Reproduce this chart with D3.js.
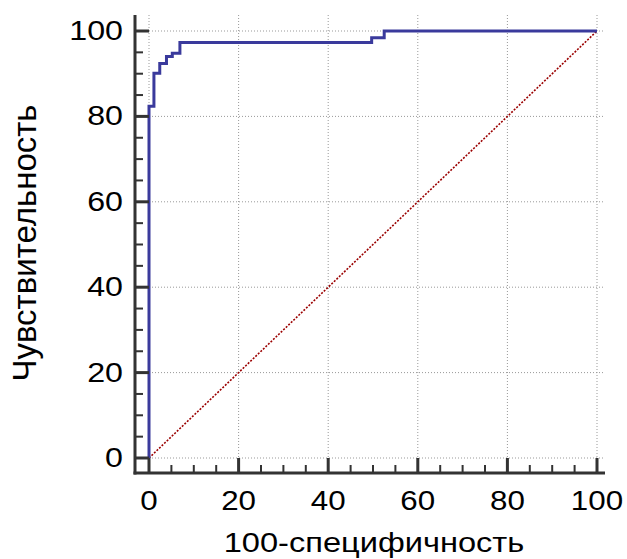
<!DOCTYPE html>
<html><head><meta charset="utf-8">
<script src="https://cdn.jsdelivr.net/npm/d3@7"></script>
<style>body{margin:0;background:#fff}svg{display:block}</style>
</head><body>
<script>
// ROC curve corners (100-specificity, sensitivity)
const fpr = [0, 0, 1.1, 2.4, 3.9, 5.2, 6.9, 49.7, 52.5, 100];
const tpr = [0, 82.4, 90.1, 92.4, 94.0, 94.8, 97.3, 98.4, 100, 100];
const majorTicks = [0, 20, 40, 60, 80, 100];
const minorTicks = d3.range(0, 101, 5);
const xTitle = "100-специфичность";
const yTitle = "Чувствительность";

(function () {
const W = 627, H = 559;
const svg = d3.select("body").append("svg").attr("width", W).attr("height", H);
const x = d3.scaleLinear().domain([0, 100]).range([149, 597]);
const y = d3.scaleLinear().domain([0, 100]).range([458, 31]);
const pLeft = x(0) - 14, pBottom = y(0) + 15, pRight = x(100) + 8, pTop = y(100) - 16;
const font = "Liberation Sans, Arial, sans-serif";
const axisColor = "#333333";

function seg(x1, y1, x2, y2, stroke, w, dash) {
  const l = svg.append("line").attr("x1", x1).attr("y1", y1).attr("x2", x2).attr("y2", y2)
    .attr("stroke", stroke).attr("stroke-width", w);
  if (dash) l.attr("stroke-dasharray", dash);
  return l;
}
function bar(x0, y0, x1, y1) {
  svg.append("rect").attr("x", Math.min(x0, x1)).attr("y", Math.min(y0, y1))
    .attr("width", Math.abs(x1 - x0)).attr("height", Math.abs(y1 - y0))
    .attr("fill", axisColor);
}

// grid
majorTicks.forEach(t => {
  seg(x(t), pTop, x(t), y(0), "#999", 1, "1,2");
  seg(x(0), y(t), pRight, y(t), "#999", 1, "1,2");
});

// diagonal reference
seg(x(0), y(0), x(100), y(100), "#9b0000", 1.6, "2,1.5");

// ROC curve
const pts = fpr.map((f, i) => [f, tpr[i]]);
svg.append("path").datum(pts)
  .attr("d", d3.line().x(d => x(d[0])).y(d => y(d[1])).curve(d3.curveStepAfter))
  .attr("fill", "none").attr("stroke", "#3a3a9c").attr("stroke-width", 3);

// axes (filled bars)
bar(pLeft - 1.5, pTop, pLeft + 1.5, pBottom + 1.5);
bar(pLeft - 1.5, pBottom - 1.5, pRight, pBottom + 1.5);
minorTicks.forEach(t => {
  const maj = t % 20 === 0;
  const hw = maj ? 1.5 : 1;
  bar(pLeft, y(t) - hw, maj ? x(0) : pLeft + 8, y(t) + hw);
  bar(x(t) - hw, pBottom, x(t) + hw, maj ? y(0) : pBottom - 8);
});

// tick labels (horizontally widened like the reference)
majorTicks.forEach(t => {
  svg.append("text").attr("transform", `translate(${pLeft - 12},${y(t) + 9}) scale(1.15,1)`)
    .attr("text-anchor", "end").attr("font-family", font).attr("font-size", 28)
    .attr("fill", "#000").text(t);
  svg.append("text").attr("transform", `translate(${x(t)},${pBottom + 37}) scale(1.12,1)`)
    .attr("text-anchor", "middle").attr("font-family", font).attr("font-size", 28)
    .attr("fill", "#000").text(t);
});

// titles
svg.append("text").attr("transform", `translate(374,552) scale(1.165,1)`)
  .attr("text-anchor", "middle").attr("font-family", font).attr("font-size", 28)
  .attr("fill", "#000").text(xTitle);
svg.append("text").attr("transform", `translate(36,243) rotate(-90)`)
  .attr("text-anchor", "middle").attr("font-family", font).attr("font-size", 33)
  .attr("fill", "#000").text(yTitle);
})();
</script>
</body></html>
